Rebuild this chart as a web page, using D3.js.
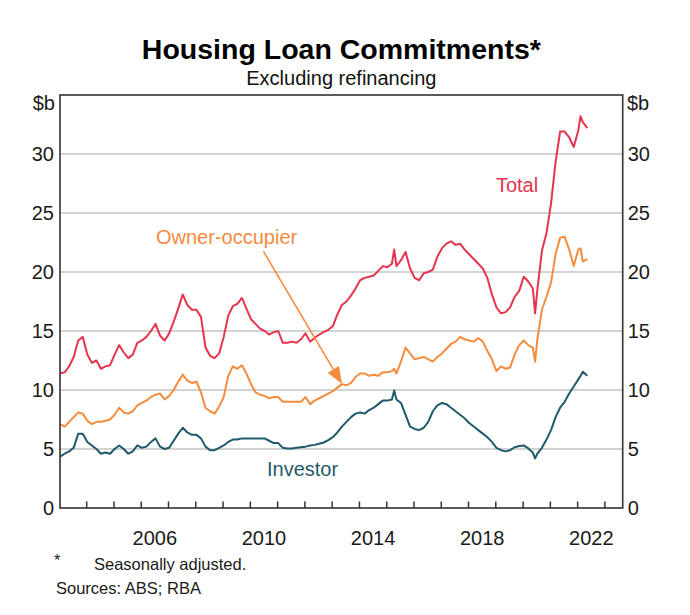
<!DOCTYPE html>
<html><head><meta charset="utf-8">
<script src="https://cdn.jsdelivr.net/npm/d3@7"></script>
<style>body{margin:0;background:#fff} svg{display:block}</style>
</head><body>
<svg id="chart" width="690" height="615"></svg>
<script>
// ---------------- data ----------------
const dates = [
 "2003-01","2003-03","2003-05","2003-07","2003-09","2003-11",
 "2004-01","2004-03","2004-05","2004-07","2004-09","2004-11",
 "2005-01","2005-03","2005-05","2005-07","2005-09","2005-11",
 "2006-01","2006-03","2006-05","2006-07","2006-09","2006-11",
 "2007-01","2007-03","2007-05","2007-07","2007-09","2007-11",
 "2008-01","2008-03","2008-05","2008-07","2008-09","2008-11",
 "2009-01","2009-03","2009-05","2009-07","2009-09","2009-11",
 "2010-01","2010-03","2010-05","2010-07","2010-09","2010-11",
 "2011-01","2011-03","2011-05","2011-07","2011-09","2011-11",
 "2012-01","2012-03","2012-05","2012-07","2012-09","2012-11",
 "2013-01","2013-03","2013-05","2013-07","2013-09","2013-11",
 "2014-01","2014-03","2014-05","2014-07","2014-09","2014-11",
 "2015-01","2015-03","2015-04","2015-05","2015-07","2015-09","2015-11",
 "2016-01","2016-03","2016-05","2016-07","2016-09","2016-11",
 "2017-01","2017-03","2017-05","2017-07","2017-09","2017-11",
 "2018-01","2018-03","2018-05","2018-07","2018-09","2018-11",
 "2019-01","2019-03","2019-05","2019-07","2019-09","2019-11",
 "2020-01","2020-03","2020-05","2020-06","2020-07","2020-09","2020-11",
 "2021-01","2021-03","2021-05","2021-07","2021-09","2021-11",
 "2022-01","2022-02","2022-03","2022-05"
];
const total = [
 11.4,11.5,12.0,12.8,14.2,14.5,
 13.0,12.3,12.5,11.8,12.0,12.1,
 13.0,13.8,13.2,12.7,13.0,14.0,
 14.2,14.5,15.0,15.6,14.6,14.2,
 14.8,15.8,16.9,18.1,17.2,16.8,
 16.8,16.2,13.6,12.9,12.7,13.1,
 14.5,16.3,17.1,17.3,17.8,16.9,
 16.0,15.6,15.2,15.0,14.7,14.9,
 15.0,14.0,14.0,14.1,14.0,14.3,
 14.8,14.1,14.4,14.7,14.9,15.1,
 15.4,16.4,17.2,17.5,18.0,18.6,
 19.3,19.5,19.6,19.7,20.1,20.5,
 20.4,20.7,21.9,20.5,21.0,21.7,20.3,
 19.5,19.3,19.9,20.0,20.2,21.3,
 22.0,22.4,22.6,22.3,22.4,21.9,
 21.5,21.1,20.7,20.3,19.5,18.1,
 17.0,16.5,16.6,17.0,17.9,18.4,
 19.6,19.2,18.6,16.5,18.5,21.8,23.3,
 25.8,29.3,31.9,31.9,31.4,30.6,
 32.0,33.2,32.7,32.2
];
const ownerOccupier = [
 7.1,6.9,7.3,7.7,8.1,8.0,
 7.4,7.1,7.3,7.3,7.4,7.5,
 7.9,8.5,8.1,8.0,8.2,8.7,
 8.9,9.1,9.4,9.6,9.7,9.2,
 9.5,10.0,10.7,11.3,10.8,10.6,
 10.7,9.8,8.5,8.2,8.0,8.6,
 9.4,11.2,12.0,11.8,12.1,11.4,
 10.5,9.8,9.6,9.5,9.3,9.4,
 9.4,9.0,9.0,9.0,9.0,9.0,
 9.4,8.8,9.1,9.3,9.5,9.7,
 9.9,10.2,10.5,10.4,10.6,11.1,
 11.4,11.4,11.2,11.3,11.2,11.5,
 11.5,11.6,11.8,11.4,12.4,13.6,13.1,
 12.6,12.7,12.8,12.6,12.4,12.8,
 13.1,13.5,13.9,14.1,14.5,14.3,
 14.2,14.1,14.4,14.1,13.3,12.6,
 11.6,12.0,11.8,11.9,13.0,13.8,
 14.2,13.8,13.6,12.4,14.3,16.8,17.9,
 19.1,21.5,22.9,23.0,21.9,20.5,
 21.9,22.0,20.9,21.1
];
const investor = [
 4.35,4.6,4.8,5.1,6.3,6.3,
 5.6,5.3,5.0,4.6,4.7,4.6,
 5.0,5.3,5.0,4.6,4.8,5.3,
 5.1,5.2,5.6,5.9,5.2,5.0,
 5.1,5.7,6.3,6.8,6.4,6.2,
 6.2,5.9,5.2,4.9,4.9,5.1,
 5.3,5.6,5.8,5.8,5.9,5.9,
 5.9,5.9,5.9,5.9,5.7,5.5,
 5.5,5.1,5.05,5.05,5.1,5.15,
 5.2,5.3,5.35,5.45,5.55,5.75,
 6.0,6.4,6.9,7.3,7.7,8.0,
 8.1,8.0,8.3,8.5,8.8,9.1,
 9.1,9.2,9.95,9.2,8.9,7.9,6.9,
 6.7,6.6,6.8,7.3,8.2,8.7,
 8.9,8.8,8.5,8.2,7.9,7.6,
 7.2,6.9,6.6,6.3,6.0,5.6,
 5.1,4.9,4.8,4.9,5.15,5.25,
 5.3,5.05,4.7,4.2,4.6,5.1,5.8,
 6.6,7.7,8.5,9.0,9.7,10.3,
 10.9,11.2,11.55,11.2
];
const yTicks = [0, 5, 10, 15, 20, 25, 30];
const xTickYears = d3.range(2004, 2024);
const xLabelYears = [2006, 2010, 2014, 2018, 2022];
const seriesNames = ["Total", "Owner-occupier", "Investor"];

// ---------------- layout ----------------
const FONT = "'Liberation Sans', Arial, Helvetica, sans-serif";
const plot = {left: 60, right: 622.7, top: 95, bottom: 508};
const colors = {"Total": "#e5344f", "Owner-occupier": "#f58b3d", "Investor": "#1f5a69"};

const svg = d3.select("#chart").style("font-family", FONT);
const toYear = s => { const [yy, mm] = s.split("-").map(Number); return yy + (mm - 0.5) / 12; };
const x = d3.scaleLinear().domain([2003.04, 2023.67]).range([plot.left, plot.right]);
const y = d3.scaleLinear().domain([0, 35]).range([plot.bottom, plot.top]);

// title
svg.append("text").attr("x", (plot.left + plot.right) / 2).attr("y", 59)
  .attr("text-anchor", "middle").attr("font-size", 28.5).attr("font-weight", "bold")
  .attr("fill", "#000").text("Housing Loan Commitments*");
svg.append("text").attr("x", (plot.left + plot.right) / 2).attr("y", 85)
  .attr("text-anchor", "middle").attr("font-size", 20).attr("fill", "#111")
  .text("Excluding refinancing");

// gridlines
svg.append("g").selectAll("line").data(yTicks.filter(d => d > 0)).join("line")
  .attr("x1", plot.left).attr("x2", plot.right)
  .attr("y1", d => y(d)).attr("y2", d => y(d))
  .attr("stroke", "#c4c4c4").attr("stroke-width", 1.4);

// y axes
const yLeft = svg.append("g").attr("transform", `translate(${plot.left},0)`)
  .call(d3.axisLeft(y).tickValues(yTicks).tickSize(0).tickPadding(6));
const yRight = svg.append("g").attr("transform", `translate(${plot.right},0)`)
  .call(d3.axisRight(y).tickValues(yTicks).tickSize(0).tickPadding(5));
[yLeft, yRight].forEach(g => {
  g.select(".domain").remove();
  g.selectAll("text").attr("font-size", 20).attr("font-family", FONT).attr("fill", "#1a1a1a");
});
svg.append("text").attr("x", 55).attr("y", 110).attr("text-anchor", "end")
  .attr("font-size", 20).attr("fill", "#1a1a1a").text("$b");
svg.append("text").attr("x", 627).attr("y", 110).attr("text-anchor", "start")
  .attr("font-size", 20).attr("fill", "#1a1a1a").text("$b");

// x ticks (inward) and labels
const xTicksG = svg.append("g").attr("transform", `translate(0,${plot.bottom})`)
  .call(d3.axisBottom(x).tickValues(xTickYears).tickSize(-6.5).tickFormat(""));
xTicksG.select(".domain").remove();
xTicksG.selectAll("line").attr("stroke", "#333").attr("stroke-width", 1.5);
const xLab = svg.append("g").attr("transform", `translate(0,${plot.bottom})`)
  .call(d3.axisBottom(x).tickValues(xLabelYears.map(d => d + 0.5)).tickSize(0).tickPadding(23)
    .tickFormat((d, i) => String(xLabelYears[i])));
xLab.select(".domain").remove();
xLab.selectAll("text").attr("font-size", 20).attr("font-family", FONT).attr("fill", "#1a1a1a");

// lines
const seriesData = {"Total": total, "Owner-occupier": ownerOccupier, "Investor": investor};
const line = d3.line().x(d => x(d[0])).y(d => y(d[1]));
seriesNames.slice().reverse().forEach(name => {
  const pts = dates.map((dt, i) => [toYear(dt), seriesData[name][i]]);
  svg.append("path").datum(pts).attr("d", line)
    .attr("fill", "none").attr("stroke", colors[name]).attr("stroke-width", 2)
    .attr("stroke-linejoin", "round");
});

// frame
svg.append("rect").attr("x", plot.left).attr("y", plot.top)
  .attr("width", plot.right - plot.left).attr("height", plot.bottom - plot.top)
  .attr("fill", "none").attr("stroke", "#333").attr("stroke-width", 1.6);

// series labels
svg.append("text").attr("x", 517).attr("y", 192).attr("text-anchor", "middle")
  .attr("font-size", 20).attr("fill", colors["Total"]).text("Total");
svg.append("text").attr("x", 156).attr("y", 244).attr("text-anchor", "start")
  .attr("font-size", 20).attr("fill", colors["Owner-occupier"]).text("Owner-occupier");
svg.append("text").attr("x", 267).attr("y", 476).attr("text-anchor", "start")
  .attr("font-size", 20).attr("fill", colors["Investor"]).text("Investor");

// arrow for owner-occupier
(function () {
  const x0 = 263.5, y0 = 251.5, x1 = 342, y1 = 384;
  const ang = Math.atan2(y1 - y0, x1 - x0), L = 17, Wd = 6.5;
  const bx = x1 - L * Math.cos(ang), by = y1 - L * Math.sin(ang);
  svg.append("line").attr("x1", x0).attr("y1", y0).attr("x2", bx).attr("y2", by)
    .attr("stroke", colors["Owner-occupier"]).attr("stroke-width", 1.6);
  const px = -Math.sin(ang), py = Math.cos(ang);
  svg.append("path")
    .attr("d", `M${x1},${y1}L${bx + px * Wd},${by + py * Wd}L${bx - px * Wd},${by - py * Wd}Z`)
    .attr("fill", colors["Owner-occupier"]);
})();

// footnotes
svg.append("text").attr("x", 54).attr("y", 566).attr("font-size", 16.5).attr("fill", "#1a1a1a").text("*");
svg.append("text").attr("x", 94).attr("y", 570).attr("font-size", 16.5).attr("fill", "#1a1a1a").text("Seasonally adjusted.");
svg.append("text").attr("x", 56).attr("y", 594).attr("font-size", 16.5).attr("fill", "#1a1a1a").text("Sources: ABS; RBA");
</script>
</body></html>
